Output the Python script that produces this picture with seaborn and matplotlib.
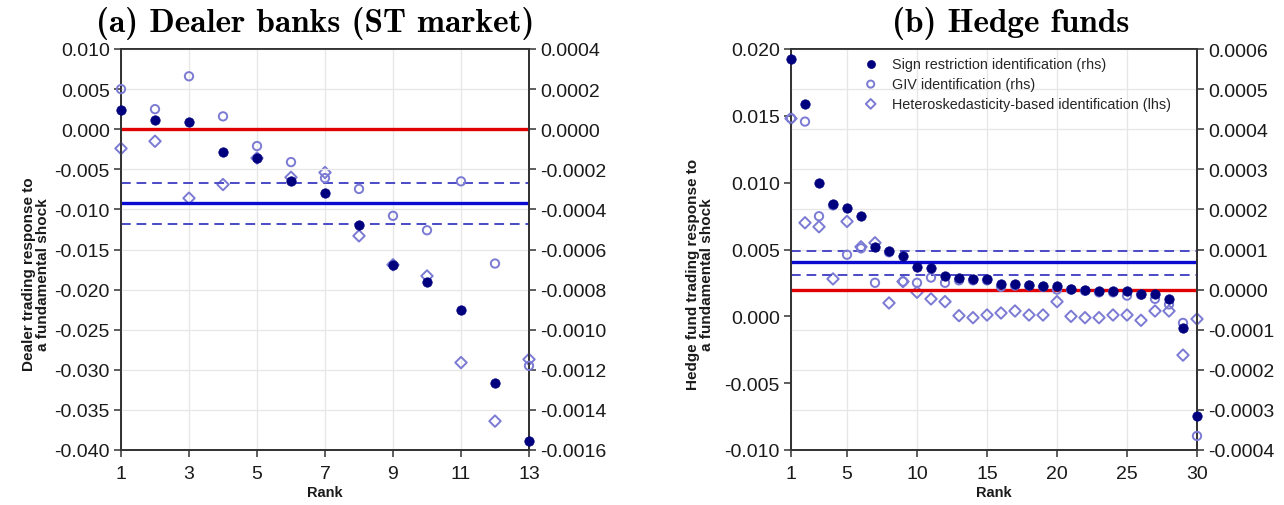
import matplotlib
matplotlib.use("Agg")
import matplotlib.pyplot as plt
import numpy as np
import pandas as pd
import seaborn as sns
from matplotlib.ticker import FixedLocator, FuncFormatter

# ---------------- Panel (a): dealer banks, ST market ----------------
dealer_rank = list(range(1, 14))
# sign restriction identification (rhs)
dealer_sign = [0.000096, 0.000044, 0.000036, -0.000116, -0.000144, -0.000256,
               -0.000316, -0.000476, -0.000676, -0.000760, -0.000900,
               -0.001264, -0.001556]
# GIV identification (rhs)
dealer_giv = [0.000200, 0.000100, 0.000264, 0.000064, -0.000084, -0.000164,
              -0.000244, -0.000298, -0.000432, -0.000504, -0.000260,
              -0.000670, -0.001180]
# heteroskedasticity-based identification (lhs)
dealer_hetero = [-0.0024, -0.0015, -0.0086, -0.0069, -0.0036, -0.0060,
                 -0.0054, -0.0133, -0.0169, -0.0183, -0.0291, -0.0364, -0.0287]
dealer_zero = 0.0
dealer_mean = -0.000370
dealer_band = [-0.000266, -0.000474]
dealer_xticks = [1, 3, 5, 7, 9, 11, 13]
dealer_lhs_ticks = [-0.040, -0.035, -0.030, -0.025, -0.020, -0.015, -0.010,
                    -0.005, 0.000, 0.005, 0.010]
dealer_rhs_ticks = [-0.0016, -0.0014, -0.0012, -0.0010, -0.0008, -0.0006,
                    -0.0004, -0.0002, 0.0000, 0.0002, 0.0004]

# ---------------- Panel (b): hedge funds ----------------
hedge_rank = list(range(1, 31))
hedge_sign = [0.000575, 0.000463, 0.000267, 0.000213, 0.000203, 0.000183,
              0.000107, 0.000097, 0.000083, 0.000057, 0.000053, 0.000033,
              0.000028, 0.000026, 0.000026, 0.000014, 0.000013, 0.000011,
              0.000010, 0.000008, 0.000002, 0.000000, -0.000003, -0.000004,
              -0.000004, -0.000010, -0.000012, -0.000023, -0.000096, -0.000315]
hedge_giv = [0.000427, 0.000419, 0.000183, 0.000210, 0.000087, 0.000103,
             0.000017, 0.000093, 0.000020, 0.000017, 0.000030, 0.000017,
             0.000023, 0.000023, 0.000023, 0.000007, 0.000010, 0.000010,
             0.000007, 0.000000, 0.000000, -0.000003, -0.000007, -0.000007,
             -0.000015, -0.000013, -0.000023, -0.000037, -0.000083, -0.000365]
hedge_hetero = [0.0148, 0.0070, 0.0067, 0.0028, 0.0071, 0.0052, 0.0055,
                0.0010, 0.0026, 0.0018, 0.0013, 0.0011, 0.00005, -0.0001,
                0.0001, 0.00025, 0.0004, 0.0001, 0.0001, 0.0011, 0.0000,
                -0.0001, -0.0001, 0.0001, 0.0001, -0.0003, 0.0004, 0.0004,
                -0.0029, -0.0002]
hedge_zero = 0.0
hedge_mean = 0.0000687
hedge_band = [0.0000974, 0.0000366]
hedge_xticks = [1, 5, 10, 15, 20, 25, 30]
hedge_lhs_ticks = [-0.010, -0.005, 0.000, 0.005, 0.010, 0.015, 0.020]
hedge_rhs_ticks = [-0.0004, -0.0003, -0.0002, -0.0001, 0.0000, 0.0001,
                   0.0002, 0.0003, 0.0004, 0.0005, 0.0006]

labels = ["Sign restriction identification (rhs)",
          "GIV identification (rhs)",
          "Heteroskedasticity-based identification (lhs)"]

NAVY = "#00007f"
LAV = "#7b7bd4"
RED = "#e00000"
BLUE = "#0a0ad0"
DASH = "#4a4ac8"
SPINE = "#333333"

sns.set_theme(style="white")
plt.rcParams["font.family"] = ["Liberation Sans", "DejaVu Sans"]
plt.rcParams["axes.unicode_minus"] = False

fig = plt.figure(figsize=(12.84, 5.06), dpi=100)
axL = fig.add_axes([121 / 1284, 55 / 506, 408 / 1284, 401 / 506])
axR = fig.add_axes([791 / 1284, 55 / 506, 406 / 1284, 401 / 506])


def fmt(decimals):
    def f(v, _pos):
        v = round(v, decimals) + 0.0
        return f"{v:.{decimals}f}"
    return FuncFormatter(f)


def draw_panel(ax, rank, sign, giv, hetero, zero, mean, band,
               xlim, xticks, lhs_ticks, rhs_ticks,
               ylabel, ylabel_x, title, title_x, legend=False):
    ax2 = ax.twinx()
    df = pd.DataFrame({"rank": rank, "sign": sign, "giv": giv, "hetero": hetero})

    # lhs: heteroskedasticity-based estimates
    sns.scatterplot(data=df, x="rank", y="hetero", ax=ax, marker="D", s=34,
                    color=LAV, facecolor="none", edgecolor=LAV, linewidth=1.4,
                    label=labels[2], legend=False, clip_on=False, zorder=3)

    # reference lines (rhs scale)
    ax2.axhline(zero, color=RED, lw=2.4, zorder=1)
    ax2.axhline(mean, color=BLUE, lw=2.4, zorder=1)
    for b in band:
        ax2.axhline(b, color=DASH, lw=1.4, ls=(0, (5, 3)), zorder=1)

    # rhs: GIV and sign-restriction estimates
    sns.scatterplot(data=df, x="rank", y="giv", ax=ax2, marker="o", s=36,
                    color=LAV, facecolor="none", edgecolor=LAV, linewidth=1.4,
                    label=labels[1], legend=False, clip_on=False, zorder=4)
    sns.scatterplot(data=df, x="rank", y="sign", ax=ax2, marker="o", s=46,
                    color=NAVY, edgecolor=NAVY, linewidth=0.5,
                    label=labels[0], legend=False, clip_on=False, zorder=5)

    ax.set_xlim(*xlim)
    ax.set_ylim(lhs_ticks[0], lhs_ticks[-1])
    ax2.set_ylim(rhs_ticks[0], rhs_ticks[-1])
    ax.xaxis.set_major_locator(FixedLocator(xticks))
    ax.yaxis.set_major_locator(FixedLocator(lhs_ticks))
    ax2.yaxis.set_major_locator(FixedLocator(rhs_ticks))
    ax.yaxis.set_major_formatter(fmt(3))
    ax2.yaxis.set_major_formatter(fmt(4))

    # grid: vertical at ranks, horizontal at rhs ticks
    ax.grid(axis="x", color="#e6e6e6", lw=0.9)
    ax2.grid(axis="y", color="#e6e6e6", lw=0.9)
    ax.set_axisbelow(True)
    ax2.set_axisbelow(True)

    for a in (ax, ax2):
        for sp in a.spines.values():
            sp.set_color(SPINE)
            sp.set_linewidth(1.3)
            sp.set_visible(True)
        a.tick_params(axis="both", direction="out", length=5, width=1.1,
                      color=SPINE, labelsize=14, labelcolor="#1a1a1a", pad=3)
    ax.tick_params(axis="y", left=True, right=False)
    ax.tick_params(axis="x", bottom=True, pad=6)
    ax2.tick_params(axis="y", right=True, left=False)

    ax.set_xlabel("Rank", fontsize=10.5, fontweight="bold", labelpad=2,
                  color="#1a1a1a")
    ax.set_ylabel(ylabel, fontsize=11, fontweight="bold", labelpad=6,
                  color="#1a1a1a", linespacing=0.95)
    ax.yaxis.set_label_coords(ylabel_x, 0.44)
    ax2.set_ylabel("")
    t = ax.set_title(title, family="cmb10", fontsize=24, pad=13,
                     color="black")
    t.set_x(title_x)

    if legend:
        h2, l2 = ax2.get_legend_handles_labels()
        h1, l1 = ax.get_legend_handles_labels()
        handles = h2[::-1] + h1
        names = l2[::-1] + l1
        ax2.legend(handles, names, loc="upper left",
                   bbox_to_anchor=(0.15, 1.005), frameon=False, fontsize=10.4,
                   handletextpad=0.9, labelspacing=0.4, borderaxespad=0.3,
                   markerscale=0.85, handlelength=1.2)
    return ax2


draw_panel(axL, dealer_rank, dealer_sign, dealer_giv, dealer_hetero,
           dealer_zero, dealer_mean, dealer_band,
           (1, 13), dealer_xticks, dealer_lhs_ticks, dealer_rhs_ticks,
           "Dealer trading response to\na fundamental shock", -0.175,
           "(a) Dealer banks (ST market)", 0.475)

draw_panel(axR, hedge_rank, hedge_sign, hedge_giv, hedge_hetero,
           hedge_zero, hedge_mean, hedge_band,
           (1, 30), hedge_xticks, hedge_lhs_ticks, hedge_rhs_ticks,
           "Hedge fund trading response to\na fundamental shock", -0.19,
           "(b) Hedge funds", 0.54, legend=True)

fig.savefig("out.png", dpi=100)
